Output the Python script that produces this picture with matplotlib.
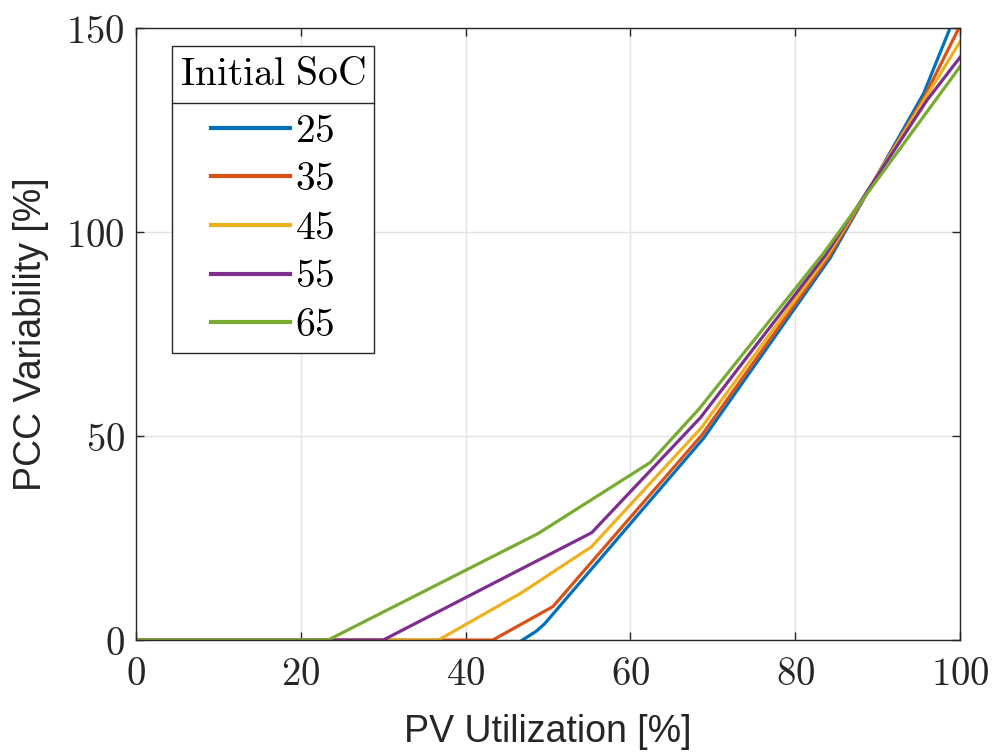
import matplotlib
matplotlib.use("Agg")
import matplotlib.pyplot as plt
from matplotlib.lines import Line2D

plt.rcParams['mathtext.fontset'] = 'cm'

# data
soc_labels = ['25', '35', '45', '55', '65']
colors = ['#0072BD', '#D95319', '#EDB120', '#7E2F8E', '#77AC30']

x_25 = [46.9, 48.6, 49.6, 68.9, 84.3, 95.6, 100]
y_25 = [0, 2.2, 4.0, 49.5, 93.8, 134.0, 156.0]
x_35 = [0, 43.3, 50.6, 68.7, 84.1, 95.7, 100]
y_35 = [0, 0, 8.2, 50.3, 94.0, 133.2, 150.5]
x_45 = [0, 36.7, 46.8, 55.3, 68.6, 83.9, 95.8, 100]
y_45 = [0, 0, 11.6, 22.9, 52.0, 94.2, 132.8, 146.6]
x_55 = [0, 30.0, 55.3, 68.5, 83.7, 96.0, 100]
y_55 = [0, 0, 26.3, 54.5, 94.4, 132.3, 142.8]
x_65 = [0, 23.3, 48.8, 62.4, 68.4, 83.4, 100]
y_65 = [0, 0, 26.1, 43.5, 56.8, 94.7, 140.5]

xs = [x_25, x_35, x_45, x_55, x_65]
ys = [y_25, y_35, y_45, y_55, y_65]

xticks = [0, 20, 40, 60, 80, 100]
yticks = [0, 50, 100, 150]

axcol = '#262626'

fig = plt.figure(figsize=(9.95, 7.56), dpi=100)
ax = fig.add_axes([0.1367, 0.1534, 0.8281, 0.8096])

for x, y, c, lab in zip(xs, ys, colors, soc_labels):
    ax.plot(x, y, color=c, lw=2.3, label=f'${lab}$', solid_joinstyle='miter')

ax.set_xlim(0, 100)
ax.set_ylim(0, 150)
ax.set_xticks(xticks, [f'${v}$' for v in xticks])
ax.set_yticks(yticks, [f'${v}$' for v in yticks])
ax.tick_params(direction='in', length=6, width=1, top=True, right=True,
               labelsize=28, colors=axcol, pad=8)
ax.tick_params(axis='x', pad=11)
for s in ax.spines.values():
    s.set_color(axcol)
    s.set_linewidth(1)
ax.grid(True, color='#e3e3e3', lw=1)
ax.set_axisbelow(True)

ax.set_xlabel('PV Utilization [%]', family='Liberation Sans', fontsize=27,
              color=axcol, labelpad=15)
ax.set_ylabel('PCC Variability [%]', family='Liberation Sans', fontsize=27,
              color=axcol, labelpad=12)

leg = ax.legend(title=r'$\mathrm{Initial\ SoC}$', loc='upper left',
                bbox_to_anchor=(0.0437, 0.9706), borderaxespad=0,
                fontsize=28.5, title_fontsize=28.5,
                fancybox=False, framealpha=1, edgecolor=axcol,
                handlelength=2.0, handletextpad=0.12, labelspacing=0.215,
                borderpad=0.2)
leg.get_frame().set_linewidth(1)
for h in leg.legend_handles:
    h.set_linewidth(3)
# more room between the title and the entries
leg._legend_box.sep = 12.2

# separator line under the legend title
fig.canvas.draw()
inv = fig.transFigure.inverted()
fb = leg.get_frame().get_window_extent()
tb = leg.get_title().get_window_extent()
ysep = tb.y0 - 9
(x0, y0) = inv.transform((fb.x0, ysep))
(x1, _) = inv.transform((fb.x1, ysep))
fig.add_artist(Line2D([x0, x1], [y0, y0], color=axcol, lw=1, zorder=10))

fig.savefig('out.png', dpi=100)
